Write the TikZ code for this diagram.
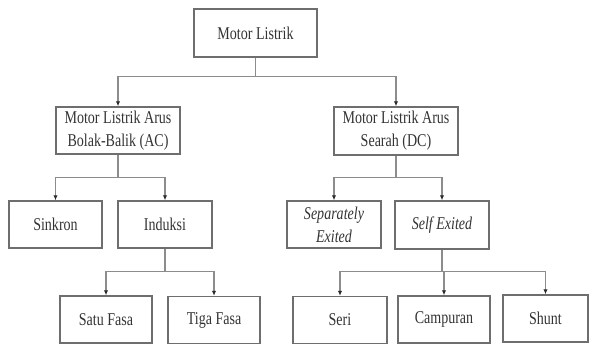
\documentclass[tikz,border=0pt]{standalone}
\usepackage{fontspec}
\setmainfont{Liberation Serif}
\newfontfamily\tnr[FakeStretch=0.78]{Liberation Serif}
\usetikzlibrary{arrows.meta}
\definecolor{boxline}{HTML}{6E6E6E}
\definecolor{connline}{HTML}{8C8C8C}
\definecolor{tipcol}{HTML}{2A2A2A}
\begin{document}
\begin{tikzpicture}[x=1pt,y=-1pt,
  box/.style={draw=boxline,line width=1.5pt,inner sep=0pt,align=center,
    font=\tnr\fontsize{18}{23}\selectfont,text=black!80},
  conn/.style={draw=connline,line width=1.4pt,
    -{Latex[length=5pt,width=4.5pt,color=tipcol]}}]
\useasboundingbox (0,0) rectangle (590,346);
\node[box,minimum width=123pt,minimum height=48pt] (top) at (255.5,33) {Motor Listrik};
\node[box,minimum width=124pt,minimum height=47pt] (ac) at (118,130.5) {Motor Listrik Arus\\Bolak-Balik (AC)};
\node[box,minimum width=124pt,minimum height=48pt] (dc) at (396,131) {Motor Listrik Arus\\Searah (DC)};
\node[box,minimum width=93pt,minimum height=47pt] (sinkron) at (55.5,224.5) {Sinkron};
\node[box,minimum width=94pt,minimum height=47pt] (induksi) at (165,224.5) {Induksi};
\node[box,minimum width=92pt,minimum height=47pt] (satu) at (106,319.5) {Satu Fasa};
\node[box,minimum width=92pt,minimum height=47pt] (tiga) at (214,320) {Tiga Fasa};
\node[box,minimum width=94pt,minimum height=47pt] (sep) at (334,224.5) {\itshape Separately\\\itshape Exited};
\node[box,minimum width=94pt,minimum height=48pt] (self) at (442,225) {\itshape Self Exited};
\node[box,minimum width=94pt,minimum height=47pt] (seri) at (340,320) {Seri};
\node[box,minimum width=92pt,minimum height=47pt] (camp) at (444,319.5) {Campuran};
\node[box,minimum width=85pt,minimum height=47pt] (shunt) at (545.5,318.5) {Shunt};
% connectors
\draw[conn] (top.south) -- ++(0,19) -| (ac.north);
\draw[conn] (top.south) -- ++(0,19) -| (dc.north);
\draw[conn] (ac.south) -- ++(0,23) -| (sinkron.north);
\draw[conn] (ac.south) -- ++(0,23) -| (induksi.north);
\draw[conn] (dc.south) -- ++(0,22) -| (sep.north);
\draw[conn] (dc.south) -- ++(0,22) -| (self.north);
\draw[conn] (induksi.south) -- ++(0,23) -| (satu.north);
\draw[conn] (induksi.south) -- ++(0,23) -| (tiga.north);
\draw[conn] (self.south) -- ++(0,22) -| (seri.north);
\draw[conn] (self.south) -- ++(0,22) -| (camp.north);
\draw[conn] (self.south) -- ++(0,22) -| (shunt.north);
\end{tikzpicture}
\end{document}
